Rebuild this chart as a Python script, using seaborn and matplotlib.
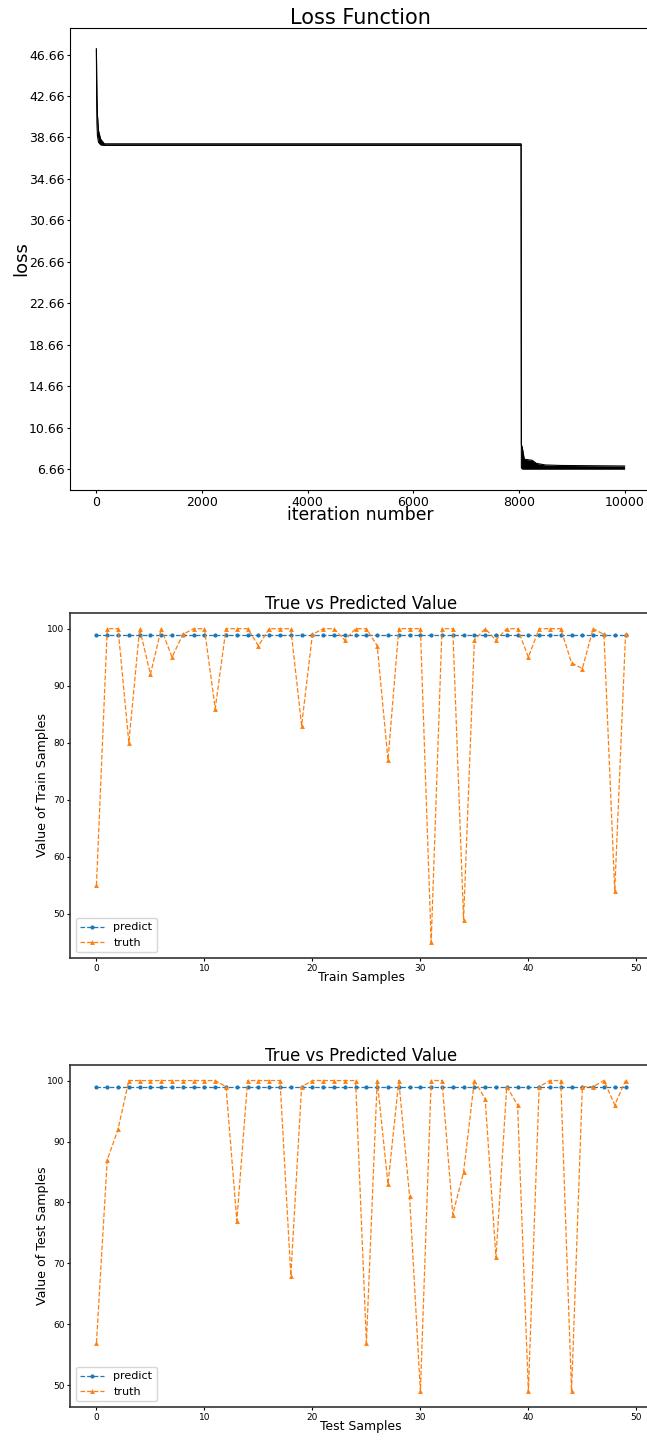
import numpy as np
import matplotlib
matplotlib.use("Agg")
import matplotlib.pyplot as plt
from matplotlib.ticker import FormatStrFormatter
import seaborn as sns

# ---- training loss: envelope of the noisy curve at selected iterations ----
loss_iter = [0, 5, 10, 20, 40, 80, 150, 4000, 8040, 8045, 8060, 8100, 8250, 8330, 8500, 8800, 9999]
loss_high = [47.2, 44.5, 42.8, 40.8, 39.3, 38.5, 38.05, 38.05, 38.05, 9.0, 8.8, 7.6, 7.5, 7.2, 7.05, 7.0, 6.95]
loss_low = [47.2, 42.0, 40.0, 38.8, 38.2, 37.95, 37.9, 37.9, 37.9, 6.8, 6.66, 6.66, 6.66, 6.66, 6.66, 6.66, 6.66]

# ---- train set: predicted vs true values ----
train_idx = list(range(50))
train_predict = [98.9, 98.9, 98.9, 98.9, 98.9, 98.9, 98.9, 98.9, 98.9, 98.9,
                 98.9, 98.9, 98.9, 98.9, 98.9, 98.9, 98.9, 98.9, 98.9, 98.9,
                 98.9, 98.9, 98.9, 98.9, 98.9, 98.9, 98.9, 98.9, 98.9, 98.9,
                 98.9, 98.9, 98.9, 98.9, 98.9, 98.9, 98.9, 98.9, 98.9, 98.9,
                 98.9, 98.9, 98.9, 98.9, 98.9, 98.9, 98.9, 98.9, 98.9, 98.9]
train_truth = [55, 100, 100, 80, 100, 92, 100, 95, 99, 100,
               100, 86, 100, 100, 100, 97, 100, 100, 100, 83,
               99, 100, 100, 98, 100, 100, 97, 77, 100, 100,
               100, 45, 100, 100, 49, 98, 100, 98, 100, 100,
               95, 100, 100, 100, 94, 93, 100, 99, 54, 99]

# ---- test set: predicted vs true values ----
test_idx = list(range(50))
test_predict = [98.9, 98.9, 98.9, 98.9, 98.9, 98.9, 98.9, 98.9, 98.9, 98.9,
                98.9, 98.9, 98.9, 98.9, 98.9, 98.9, 98.9, 98.9, 98.9, 98.9,
                98.9, 98.9, 98.9, 98.9, 98.9, 98.9, 98.9, 98.9, 98.9, 98.9,
                98.9, 98.9, 98.9, 98.9, 98.9, 98.9, 98.9, 98.9, 98.9, 98.9,
                98.9, 98.9, 98.9, 98.9, 98.9, 98.9, 98.9, 98.9, 98.9, 98.9]
test_truth = [57, 87, 92, 100, 100, 100, 100, 100, 100, 100,
              100, 100, 99, 77, 100, 100, 100, 100, 68, 99,
              100, 100, 100, 100, 100, 57, 100, 83, 100, 81,
              49, 100, 100, 78, 85, 100, 97, 71, 99, 96,
              49, 99, 100, 100, 49, 99, 99, 100, 96, 100]

plt.rcParams["font.family"] = ["DejaVu Sans"]

W, H = 647, 1440
fig = plt.figure(figsize=(W / 100, H / 100), dpi=100)


def frame(left, top, right, bottom):
    return [left / W, 1 - bottom / H, (right - left) / W, (bottom - top) / H]


# ---------------- loss curve ----------------
ax0 = fig.add_axes(frame(70, 28, 651, 490))
ax0.fill_between(loss_iter, loss_low, loss_high, color="black", linewidth=0)
sns.lineplot(x=loss_iter, y=loss_high, color="black", linewidth=0.8, ax=ax0)
sns.lineplot(x=loss_iter, y=loss_low, color="black", linewidth=0.8, ax=ax0)
ax0.set_yticks(np.arange(min(loss_low), max(loss_high), 4))
ax0.yaxis.set_major_formatter(FormatStrFormatter("%.2f"))
ax0.tick_params(labelsize=9, length=2.5, width=0.8, pad=1.5, color="black")
ax0.set_title("Loss Function", fontsize=15, pad=3)
ax0.set_xlabel("iteration number", fontsize=12.4, labelpad=-2)
ax0.set_ylabel("loss", fontsize=13, labelpad=-1)
for s in ax0.spines.values():
    s.set_color("black")
    s.set_linewidth(0.8)


def compare(ax, idx, pred, truth, xlabel, ylabel):
    sns.lineplot(x=idx, y=pred, ax=ax, color="C0", linestyle="--", linewidth=0.9,
                 marker="o", markersize=3, markeredgecolor="C0", markeredgewidth=0,
                 label="predict")
    sns.lineplot(x=idx, y=truth, ax=ax, color="C1", linestyle="--", linewidth=0.9,
                 marker="^", markersize=3.5, markeredgecolor="C1", markeredgewidth=0,
                 label="truth")
    ax.set_title("True vs Predicted Value", fontsize=11.9, pad=3)
    ax.set_xlabel(xlabel, fontsize=8.9, labelpad=-1)
    ax.set_ylabel(ylabel, fontsize=9.1, labelpad=-1.5)
    ax.tick_params(labelsize=6.5, length=2.5, width=0.8, pad=1.5)
    for s in ax.spines.values():
        s.set_color("#333333")
        s.set_linewidth(1.2)
    ax.legend(loc="lower left", fontsize=8, handlelength=2.2)


ax1 = fig.add_axes(frame(70, 613, 652, 958))
compare(ax1, train_idx, train_predict, train_truth, "Train Samples", "Value of Train Samples")

ax2 = fig.add_axes(frame(70, 1065, 652, 1407))
compare(ax2, test_idx, test_predict, test_truth, "Test Samples", "Value of Test Samples")

fig.savefig("out.png", dpi=100)
